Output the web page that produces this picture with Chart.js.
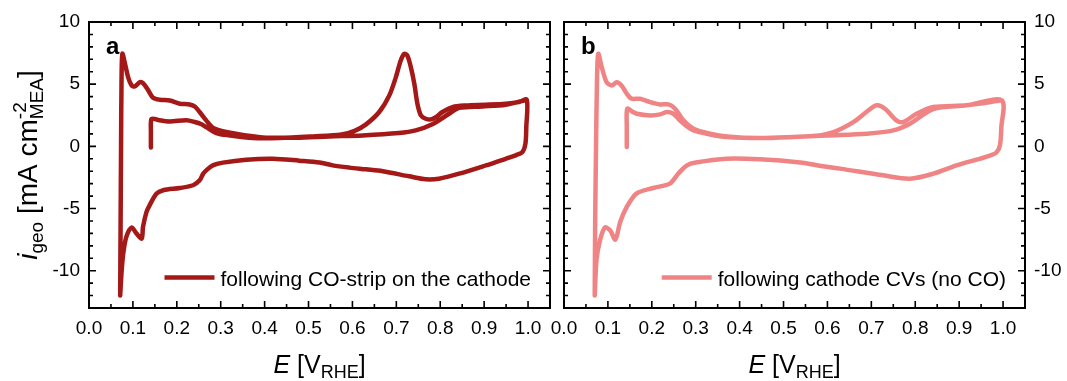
<!DOCTYPE html>
<html>
<head>
<meta charset="utf-8">
<script src="https://cdn.jsdelivr.net/npm/chart.js@4.4.1/dist/chart.umd.min.js"></script>
<style>
    html, body { margin: 0; padding: 0; background: #fff; }
    #wrap { position: relative; width: 1067px; height: 381px; overflow: hidden; }
    .box { position: absolute; top: 0; height: 381px; }
    #boxA { left: 0; width: 560px; }
    #boxB { left: 530px; width: 537px; }
</style>
</head>
<body>
<div id="wrap">
    <div class="box" id="boxA"><canvas id="chartA" width="560" height="381"></canvas></div>
    <div class="box" id="boxB"><canvas id="chartB" width="537" height="381"></canvas></div>
</div>
<script>
// Axis ticks
const xTickValues = [0.0, 0.1, 0.2, 0.3, 0.4, 0.5, 0.6, 0.7, 0.8, 0.9, 1.0];
const yTickValues = [-10, -5, 0, 5, 10];

// Panel a: following CO-strip (anodic w/ CO peak, cathodic, anodic)
const stripE = [
    0.141, 0.141, 0.142, 0.150, 0.160, 0.184, 0.222, 0.241, 0.255, 0.267, 0.290, 0.320, 0.373, 0.434, 0.510,
    0.575, 0.605, 0.631, 0.661, 0.684, 0.699, 0.710, 0.718, 0.725, 0.733, 0.741, 0.748, 0.756, 0.767, 0.779,
    0.790, 0.805, 0.828, 0.858, 0.904, 0.949, 0.979, 0.997,
    0.996, 0.994, 0.987, 0.972, 0.949, 0.904, 0.843, 0.797, 0.767, 0.729, 0.669, 0.631, 0.593, 0.555, 0.525,
    0.479, 0.419, 0.358, 0.305, 0.282, 0.267, 0.260, 0.252, 0.237, 0.207, 0.169, 0.154, 0.138, 0.131, 0.123,
    0.120, 0.108, 0.097, 0.085, 0.078, 0.074, 0.071,
    0.071, 0.072, 0.073, 0.074, 0.076, 0.082, 0.089, 0.097, 0.104, 0.116, 0.123, 0.135, 0.146, 0.161, 0.184,
    0.207, 0.229, 0.241, 0.252, 0.267, 0.282, 0.313, 0.358, 0.404, 0.472, 0.547, 0.623, 0.706, 0.744, 0.782,
    0.820, 0.843, 0.896, 0.949, 0.997
];
const stripI = [
    -0.1, 1.0, 2.2, 2.2, 2.1, 2.0, 2.1, 1.96, 1.8, 1.55, 1.07, 0.88, 0.67, 0.67, 0.8,
    0.95, 1.25, 1.77, 2.76, 4.1, 5.57, 6.9, 7.44, 7.3, 6.37, 5.03, 3.43, 2.49, 2.22, 2.17,
    2.35, 2.76, 3.16, 3.29, 3.35, 3.43, 3.56, 3.75,
    1.55, 0.21, -0.46, -0.72, -1.0, -1.53, -2.2, -2.6, -2.65, -2.41, -2.0, -1.85, -1.71, -1.53, -1.3,
    -1.15, -0.99, -1.07, -1.31, -1.53, -1.93, -2.2, -2.73, -3.13, -3.35, -3.53, -3.8, -4.74, -5.27, -6.48,
    -7.42, -7.0, -6.53, -7.28, -8.62, -10.2, -12.0,
    -12.0, -6.0, 0.0, 5.0, 7.44, 6.64, 5.57, 4.9, 4.82, 5.16, 5.08, 4.5, 3.91, 3.75, 3.69,
    3.43, 3.37, 3.21, 2.76, 2.09, 1.5, 1.15, 0.88, 0.7, 0.7, 0.8, 0.88, 1.07, 1.28, 1.77,
    2.62, 3.1, 3.21, 3.35, 3.75
];

// Panel b: following cathode CVs (no CO)
const cleanE = [
    0.143, 0.143, 0.144, 0.155, 0.166, 0.196, 0.219, 0.234, 0.249, 0.264, 0.280, 0.295, 0.333, 0.371, 0.446,
    0.522, 0.575, 0.614, 0.659, 0.690, 0.712, 0.731, 0.757, 0.772, 0.803, 0.841, 0.917, 0.997,
    0.996, 0.993, 0.985, 0.970, 0.948, 0.894, 0.841, 0.788, 0.727, 0.629, 0.590, 0.538, 0.446, 0.370, 0.300,
    0.280, 0.260, 0.241, 0.203, 0.165, 0.143, 0.128, 0.117, 0.105, 0.093, 0.082, 0.074, 0.070,
    0.070, 0.071, 0.073, 0.075, 0.078, 0.086, 0.097, 0.109, 0.120, 0.131, 0.143, 0.154, 0.173, 0.196, 0.219,
    0.238, 0.253, 0.272, 0.295, 0.333, 0.371, 0.446, 0.522, 0.598, 0.690, 0.750, 0.788, 0.841, 0.917, 0.997
];
const cleanI = [
    -0.05, 1.5, 3.03, 2.8, 2.62, 2.49, 2.57, 2.76, 2.62, 2.09, 1.6, 1.28, 0.95, 0.75, 0.67,
    0.75, 0.85, 1.15, 1.95, 2.8, 3.3, 3.03, 2.09, 1.95, 2.62, 3.16, 3.3, 3.7,
    1.5, 0.1, -0.5, -0.75, -0.99, -1.53, -2.2, -2.6, -2.33, -1.79, -1.6, -1.3, -1.04, -0.99, -1.3,
    -1.53, -2.2, -3.0, -3.35, -3.8, -4.87, -6.08, -7.5, -6.75, -6.53, -7.55, -9.15, -12.0,
    -12.0, -6.0, 0.0, 5.0, 7.44, 6.37, 5.16, 4.9, 5.16, 4.9, 4.23, 3.83, 3.83, 3.56, 3.37,
    3.37, 3.03, 2.09, 1.42, 1.02, 0.8, 0.67, 0.75, 0.88, 1.02, 1.28, 1.82, 3.0, 3.3, 3.7
];

const FONT = '"Liberation Sans", Arial, sans-serif';

function toPoints(es, is) {
    return es.map((e, k) => ({ x: e, y: is[k] }));
}

// draw a run of text pieces; each piece is a stack of {t, size, italic, dy}
function drawRich(ctx, pieces, cx, baseY) {
    const widths = pieces.map(stack => Math.max(...stack.map(p => {
        ctx.font = (p.italic ? 'italic ' : '') + p.size + 'px ' + FONT;
        return ctx.measureText(p.t).width;
    })));
    let x = cx - widths.reduce((s, w) => s + w, 0) / 2;
    pieces.forEach((stack, k) => {
        stack.forEach(p => {
            ctx.font = (p.italic ? 'italic ' : '') + p.size + 'px ' + FONT;
            ctx.fillText(p.t, x, baseY + (p.dy || 0));
        });
        x += widths[k];
    });
}

const decor = {
    id: 'decor',
    afterDraw(chart, args, opts) {
        const { ctx, chartArea: a, scales: { x, y } } = chart;
        ctx.save();
        // inward ticks on all four sides
        ctx.strokeStyle = '#000';
        ctx.lineWidth = 1.6;
        ctx.beginPath();
        for (let k = 1; k <= 20; k++) {
            const px = x.getPixelForValue(k * 0.05);
            const len = k % 2 === 0 ? 7 : 4;
            ctx.moveTo(px, a.bottom); ctx.lineTo(px, a.bottom - len);
            ctx.moveTo(px, a.top); ctx.lineTo(px, a.top + len);
        }
        for (let v = -12; v <= 9; v++) {
            const py = y.getPixelForValue(v);
            const len = v % 5 === 0 ? 7 : 4;
            ctx.moveTo(a.left, py); ctx.lineTo(a.left + len, py);
            ctx.moveTo(a.right, py); ctx.lineTo(a.right - len, py);
        }
        ctx.stroke();
        ctx.lineWidth = 2;
        ctx.strokeRect(a.left, a.top, a.right - a.left, a.bottom - a.top);

        // panel letter
        ctx.fillStyle = '#000';
        ctx.font = 'bold 24px ' + FONT;
        ctx.textAlign = 'left';
        ctx.textBaseline = 'alphabetic';
        ctx.fillText(opts.letter, a.left + 17, a.top + 32);

        // legend (bottom right, inside)
        const ds = chart.data.datasets[0];
        ctx.font = '21px ' + FONT;
        const tw = ctx.measureText(ds.label).width;
        const tx = a.right - 19 - tw;
        ctx.fillText(ds.label, tx, a.bottom - 22);
        ctx.strokeStyle = ds.borderColor;
        ctx.lineWidth = 4.5;
        ctx.beginPath();
        ctx.moveTo(tx - 56, a.bottom - 30.5);
        ctx.lineTo(tx - 6, a.bottom - 30.5);
        ctx.stroke();

        // x title: E [V_RHE]
        ctx.fillStyle = '#000';
        drawRich(ctx, [
            [{ t: 'E', size: 25, italic: true }],
            [{ t: ' [V', size: 25 }],
            [{ t: 'RHE', size: 18, dy: 5 }],
            [{ t: ']', size: 25 }]
        ], (a.left + a.right) / 2, 373);

        // y title: i_geo [mA cm^-2_MEA]
        if (opts.yTitle) {
            ctx.translate(37, 165);
            ctx.rotate(-Math.PI / 2);
            drawRich(ctx, [
                [{ t: 'i', size: 28, italic: true }],
                [{ t: 'geo', size: 19, dy: 6 }],
                [{ t: ' [mA cm', size: 28 }],
                [{ t: '-2', size: 19, dy: -11 }, { t: 'MEA', size: 19, dy: 6 }],
                [{ t: ']', size: 28 }]
            ], 0, 0);
        }
        ctx.restore();
    }
};

function makeChart(id, label, color, es, is, side, yWidth, pad, letter) {
    const ctx = document.getElementById(id).getContext('2d');
    return new Chart(ctx, {
        type: 'scatter',
        data: {
            datasets: [{
                label: label,
                data: toPoints(es, is),
                showLine: true,
                borderColor: color,
                backgroundColor: color,
                borderWidth: 4.5,
                pointRadius: 0,
                tension: 0.3,
                borderCapStyle: 'round',
                borderJoinStyle: 'round'
            }]
        },
        options: {
            responsive: false,
            animation: false,
            devicePixelRatio: 1,
            layout: { padding: pad },
            plugins: {
                legend: { display: false },
                tooltip: { enabled: false },
                decor: { letter: letter, yTitle: side === 'left' }
            },
            scales: {
                x: {
                    type: 'linear',
                    min: 0,
                    max: 1.05,
                    afterBuildTicks: s => { s.ticks = xTickValues.map(v => ({ value: v })); },
                    afterFit: s => { s.height = 73; s.paddingLeft = 0; s.paddingRight = 0; },
                    grid: { display: false, drawTicks: false, tickLength: 0 },
                    border: { display: false },
                    ticks: {
                        padding: 9,
                        color: '#000',
                        font: { family: FONT, size: 19 },
                        maxRotation: 0,
                        autoSkip: false,
                        callback: v => v.toFixed(1)
                    }
                },
                y: {
                    type: 'linear',
                    position: side,
                    min: -13,
                    max: 10,
                    afterBuildTicks: s => { s.ticks = yTickValues.map(v => ({ value: v })); },
                    afterFit: s => { s.width = yWidth; s.paddingTop = 0; s.paddingBottom = 0; },
                    grid: { display: false, drawTicks: false, tickLength: 0 },
                    border: { display: false },
                    ticks: {
                        padding: 9,
                        color: '#000',
                        font: { family: FONT, size: 19 },
                        autoSkip: false,
                        callback: v => String(v)
                    }
                }
            }
        },
        plugins: [decor]
    });
}

makeChart('chartA', 'following CO-strip on the cathode', '#A51818', stripE, stripI,
    'left', 89, { left: 0, right: 10, top: 22, bottom: 0 }, 'a');
makeChart('chartB', 'following cathode CVs (no CO)', '#F08484', cleanE, cleanI,
    'right', 42, { left: 34, right: 0, top: 22, bottom: 0 }, 'b');
</script>
</body>
</html>
